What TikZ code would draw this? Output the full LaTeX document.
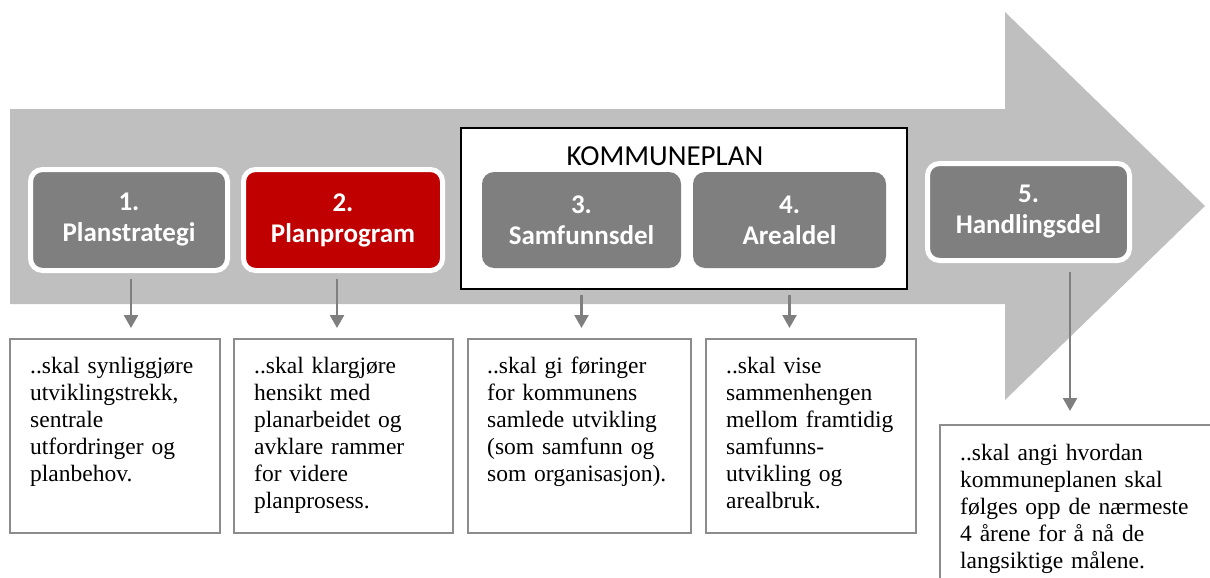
\documentclass[tikz,border=0pt]{standalone}
\usepackage{fontspec}
\setmainfont{Liberation Serif}
\newfontfamily\calfont{Carlito}
\usetikzlibrary{arrows.meta,shadows}
\definecolor{arrowgrey}{HTML}{BFBFBF}
\definecolor{boxgrey}{HTML}{7F7F7F}
\definecolor{boxred}{HTML}{C00000}
\definecolor{edgegrey}{HTML}{8C8C8C}
\begin{document}
\begin{tikzpicture}[x=1pt,y=-1pt,
  stage/.style={rounded corners=12pt, fill=boxgrey, draw=white, line width=5pt,
    text=white, font=\calfont\bfseries\fontsize{27}{31}\selectfont, align=center, inner sep=0pt},
  innerstage/.style={stage, draw=none},
  descbox/.style={draw=edgegrey, line width=1.5pt, fill=white,
    drop shadow={shadow xshift=1.5pt, shadow yshift=-1.5pt, fill=black!40, opacity=1},
    anchor=north west, inner sep=0pt},
  desctext/.style={font=\fontsize{23.5}{27}\selectfont, align=left, text width=200pt,
    inner sep=0pt, anchor=base west},
  conn/.style={draw=boxgrey, line width=2.5pt, -{Triangle[width=14pt,length=13pt]}}
]
\useasboundingbox (0,0) rectangle (1210,578);
\clip (0,0) rectangle (1210,578);

% big background arrow
\fill[arrowgrey] (10,109) -- (1005,109) -- (1005,12) -- (1205,206) -- (1005,400)
  -- (1005,304) -- (10,304) -- cycle;

% stages
\node[stage, minimum width=197pt, minimum height=101pt] (b1) at (129,220) {1.\\Planstrategi};
\node[stage, fill=boxred, minimum width=199pt, minimum height=101pt] (b2) at (343,220) {2.\\Planprogram};

\node[draw=black, line width=2pt, fill=white, minimum width=446pt, minimum height=161pt,
  inner sep=0pt] (kp) at (684,208.5) {};
\node[font=\calfont\fontsize{29}{32}\selectfont, anchor=base, inner sep=0pt] (kt) at (665,165) {KOMMUNEPLAN};
\node[innerstage, minimum width=199pt, minimum height=96pt] (b3) at (581.5,220) {3.\\Samfunnsdel};
\node[innerstage, minimum width=193pt, minimum height=96pt] (b4) at (789.5,220) {4.\\Arealdel};

\node[stage, minimum width=202pt, minimum height=97pt] (b5) at (1028.5,212) {5.\\Handlingsdel};

% description boxes
\node[descbox, minimum width=210pt, minimum height=194pt] (d1) at (9,338) {};
\node[descbox, minimum width=219pt, minimum height=194pt] (d2) at (233,338) {};
\node[descbox, minimum width=223pt, minimum height=194pt] (d3) at (467,338) {};
\node[descbox, minimum width=210pt, minimum height=194pt] (d4) at (705,338) {};
\node[descbox, minimum width=300pt, minimum height=200pt] (d5) at (939,424) {};

\node[desctext] (t1) at (30,373) {..skal synliggjøre\\utviklingstrekk,\\sentrale\\utfordringer og\\planbehov.};
\node[desctext] (t2) at (254,373) {..skal klargjøre\\hensikt med\\planarbeidet og\\avklare rammer\\for videre\\planprosess.};
\node[desctext] (t3) at (487,373) {..skal gi føringer\\for kommunens\\samlede utvikling\\(som samfunn og\\som organisasjon).};
\node[desctext] (t4) at (726,373) {..skal vise\\sammenhengen\\mellom framtidig\\samfunns-\\utvikling og\\arealbruk.};
\node[desctext, text width=240pt] (t5) at (960,460) {..skal angi hvordan\\kommuneplanen skal\\følges opp de nærmeste\\4 årene for å nå de\\langsiktige målene.};

% connectors
\draw[conn, shorten <=6pt, shorten >=10pt] ([xshift=2pt]b1.south) -- ([xshift=2pt]b1.south |- d1.north);
\draw[conn, shorten <=6pt, shorten >=10pt] ([xshift=-6pt]b2.south) -- ([xshift=-6pt]b2.south |- d2.north);
\draw[conn, shorten <=5pt, shorten >=10pt] (b3.south |- kp.south) -- (b3.south |- d3.north);
\draw[conn, shorten <=5pt, shorten >=10pt] (b4.south |- kp.south) -- (b4.south |- d4.north);
\draw[conn, shorten <=9pt, shorten >=13pt] ([xshift=41.5pt]b5.south) -- ([xshift=41.5pt]b5.south |- d5.north);
\end{tikzpicture}
\end{document}
